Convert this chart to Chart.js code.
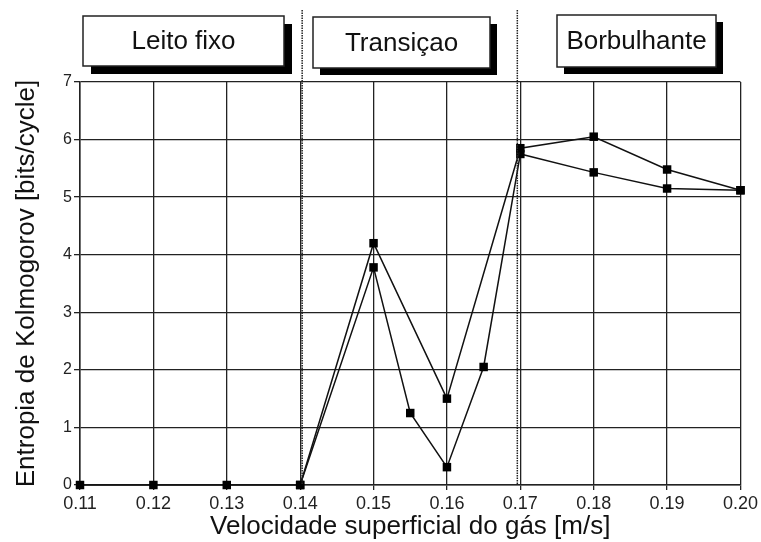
<!DOCTYPE html>
<html>
<head>
<meta charset="utf-8">
<script src="https://cdn.jsdelivr.net/npm/chart.js@4/dist/chart.umd.min.js"></script>
<style>
html,body{margin:0;padding:0;background:#fff;}
#wrap{width:761px;height:542px;position:relative;}
</style>
</head>
<body>
<div id="wrap"><canvas id="c" width="761" height="542"></canvas></div>
<script>
// ---- data ----
const xTicks = [0.11,0.12,0.13,0.14,0.15,0.16,0.17,0.18,0.19,0.20];
const seriesAx = [0.11,0.12,0.13,0.14,0.15,0.16,0.17,0.18,0.19,0.20];
const seriesAy = [0,0,0,0,4.2,1.5,5.85,6.05,5.48,5.12];
const seriesBx = [0.14,0.15,0.155,0.16,0.165,0.17,0.18,0.19,0.20];
const seriesBy = [0,3.78,1.25,0.31,2.05,5.75,5.43,5.15,5.12];
const regionNames = ["Leito fixo","Transiçao","Borbulhante"];
const regionBounds = [0.14,0.17];
const xTitle = "Velocidade superficial do gás [m/s]";
const yTitle = "Entropia de Kolmogorov [bits/cycle]";

const toPts = (xs, ys) => xs.map((x, i) => ({x: x, y: ys[i]}));

const FONT = "'Liberation Sans', Arial, sans-serif";

const regionPlugin = {
  id: 'regions',
  afterDraw(chart) {
    const ctx = chart.ctx;
    const xs = chart.scales.x;
    const area = chart.chartArea;
    ctx.save();
    // dotted dividers
    ctx.strokeStyle = '#222';
    ctx.lineWidth = 1.5;
    ctx.setLineDash([1.5, 1]);
    regionBounds.forEach((b, i) => {
      const px = xs.getPixelForValue(b) + (i === 0 ? 2 : -3);
      ctx.beginPath();
      ctx.moveTo(px, 10);
      ctx.lineTo(px, area.bottom);
      ctx.stroke();
    });
    ctx.setLineDash([]);
    // boxes
    const boxes = [
      {l: 83, t: 16, r: 284, b: 66, sh: 8},
      {l: 313, t: 17, r: 490, b: 68, sh: 7},
      {l: 557, t: 15, r: 716, b: 67, sh: 7}
    ];
    boxes.forEach((bx, i) => {
      ctx.fillStyle = '#000';
      ctx.fillRect(bx.l + bx.sh, bx.t + bx.sh, bx.r - bx.l, bx.b - bx.t);
      ctx.fillStyle = '#fff';
      ctx.fillRect(bx.l, bx.t, bx.r - bx.l, bx.b - bx.t);
      ctx.strokeStyle = '#222';
      ctx.lineWidth = 1.5;
      ctx.strokeRect(bx.l, bx.t, bx.r - bx.l, bx.b - bx.t);
      ctx.fillStyle = '#111';
      ctx.font = "26px " + FONT;
      ctx.textAlign = 'center';
      ctx.textBaseline = 'middle';
      ctx.fillText(regionNames[i], (bx.l + bx.r) / 2, (bx.t + bx.b) / 2 + 1);
    });
    ctx.restore();
  }
};

const dsStyle = {
  showLine: true,
  borderColor: '#111',
  borderWidth: 1.5,
  backgroundColor: '#000',
  pointBackgroundColor: '#000',
  pointBorderColor: '#000',
  pointStyle: 'rect',
  pointRadius: 6,
  pointBorderWidth: 0,
  tension: 0,
  clip: false
};

new Chart(document.getElementById('c'), {
  type: 'scatter',
  data: {
    datasets: [
      Object.assign({label: 'A', data: toPts(seriesAx, seriesAy)}, dsStyle),
      Object.assign({label: 'B', data: toPts(seriesBx, seriesBy)}, dsStyle)
    ]
  },
  options: {
    responsive: false,
    animation: false,
    events: [],
    layout: {padding: {top: 82, right: 19, bottom: 0, left: 0}},
    plugins: {legend: {display: false}, tooltip: {enabled: false}},
    scales: {
      x: {
        type: 'linear',
        min: 0.11, max: 0.20,
        afterBuildTicks: (s) => { s.ticks = xTicks.map(v => ({value: v})); },
        afterFit: (s) => { s.height = 57; },
        ticks: {
          callback: (v) => Number(v).toFixed(2),
          color: '#222',
          font: {family: FONT, size: 18},
          padding: 3,
          maxRotation: 0,
          autoSkip: false
        },
        grid: {color: '#222', lineWidth: 1.3, tickLength: 5},
        border: {color: '#222', width: 1.5},
        title: {display: true, text: xTitle, color: '#111', font: {family: FONT, size: 26}, padding: {top: 0, bottom: 0}}
      },
      y: {
        min: 0, max: 7,
        afterFit: (s) => { s.width = 80; },
        ticks: {
          stepSize: 1,
          color: '#222',
          font: {family: FONT, size: 16},
          padding: 2
        },
        grid: {color: '#222', lineWidth: 1.3, tickLength: 6},
        border: {color: '#222', width: 1.5},
        title: {display: true, text: yTitle, color: '#111', font: {family: FONT, size: 26}, padding: {top: 11, bottom: 0}}
      }
    }
  },
  plugins: [regionPlugin]
});
</script>
</body>
</html>
